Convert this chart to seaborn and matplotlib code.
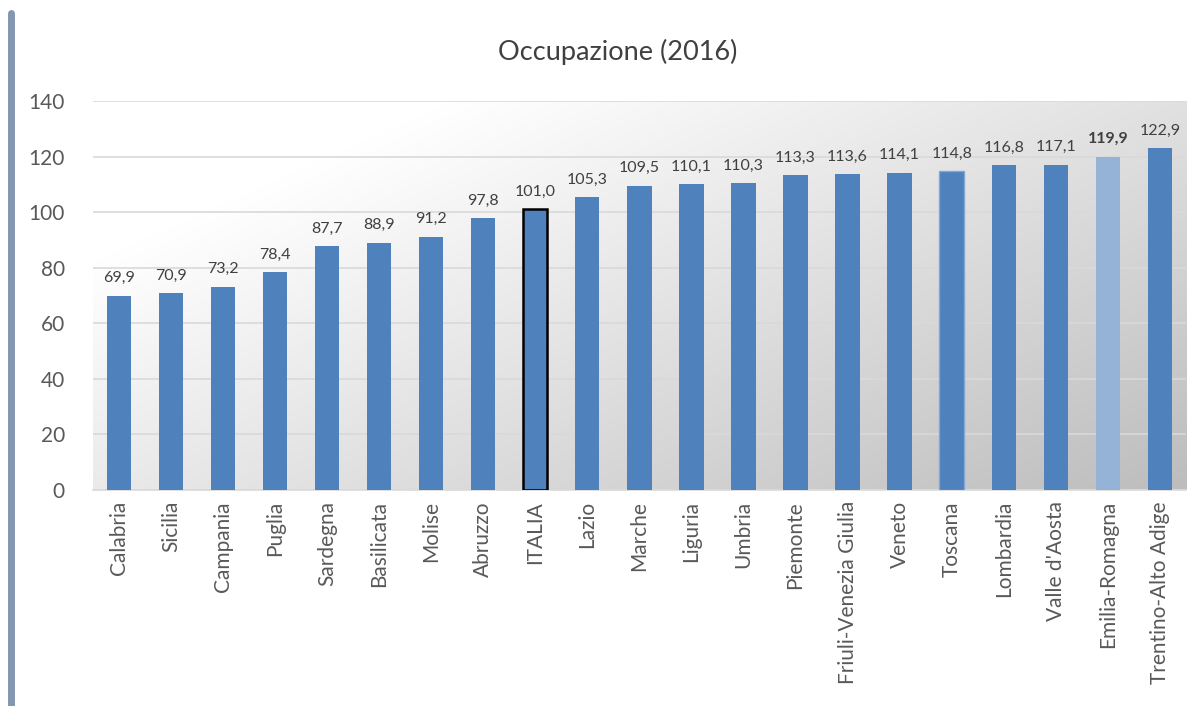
import numpy as np
import pandas as pd
import matplotlib
matplotlib.use("Agg")
import matplotlib.pyplot as plt
import seaborn as sns

regions = ["Calabria", "Sicilia", "Campania", "Puglia", "Sardegna", "Basilicata", "Molise",
           "Abruzzo", "ITALIA", "Lazio", "Marche", "Liguria", "Umbria", "Piemonte",
           "Friuli-Venezia Giulia", "Veneto", "Toscana", "Lombardia", "Valle d'Aosta",
           "Emilia-Romagna", "Trentino-Alto Adige"]
values = [69.9, 70.9, 73.2, 78.4, 87.7, 88.9, 91.2, 97.8, 101.0, 105.3, 109.5, 110.1,
          110.3, 113.3, 113.6, 114.1, 114.8, 116.8, 117.1, 119.9, 122.9]
yticks = [0, 20, 40, 60, 80, 100, 120, 140]
title = "Occupazione (2016)"

sns.set_theme(style="white")
plt.rcParams['font.family'] = ['Lato', 'DejaVu Sans']

df = pd.DataFrame({"regione": regions, "valore": values})
base = "#4F81BD"
light = "#95B3D7"
palette = {r: (light if r == "Emilia-Romagna" else base) for r in regions}

fig = plt.figure(figsize=(12.04, 7.06), dpi=100)
ax = fig.add_axes([0.077, 0.306, 0.908, 0.551])

# gradient background
ny, nx = 200, 400
u = np.linspace(0, 1, nx)[None, :]
v = np.linspace(0, 1, ny)[:, None]  # 0 top, 1 bottom
t = np.clip((0.75 * u + 0.6 * v - 0.25) / 1.1, 0, 1)
g = 1.0 - 0.26 * t
img = np.dstack([g, g, g])
ax.imshow(img, extent=[0, 1, 0, 1], transform=ax.transAxes, aspect="auto", zorder=0)

sns.barplot(data=df, x="regione", y="valore", hue="regione", palette=palette,
            width=0.47, legend=False, ax=ax, zorder=3, saturation=1)

for i, p in enumerate(ax.patches):
    if regions[i] == "ITALIA":
        p.set_edgecolor("black")
        p.set_linewidth(1.8)
    elif regions[i] == "Toscana":
        p.set_edgecolor("#7FA7DA")
        p.set_linewidth(1.0)
    else:
        p.set_linewidth(0)

for i, (r, val) in enumerate(zip(regions, values)):
    lab = f"{val:.1f}".replace(".", ",")
    ax.text(i, val + 3.8, lab, ha="center", va="bottom", fontsize=11.5,
            color="#404040", fontweight=("bold" if r == "Emilia-Romagna" else "normal"),
            zorder=5)

ax.set_ylim(0, 140)
ax.set_xlim(-0.5, len(regions) - 0.5)
ax.set_yticks(yticks)
ax.set_yticklabels([str(y) for y in yticks], fontsize=15, color="#595959")
ax.set_xticks(range(len(regions)))
ax.set_xticklabels(regions, rotation=90, fontsize=15, color="#595959")
ax.tick_params(axis="y", pad=20, length=0)
ax.tick_params(axis="x", pad=8, length=0)
ax.yaxis.grid(True, color="#D9D9D9", linewidth=1.2, zorder=1)
ax.set_axisbelow(True)
for s in ["top", "right", "left"]:
    ax.spines[s].set_visible(False)
ax.spines["bottom"].set_color("#D9D9D9")
ax.spines["bottom"].set_linewidth(1.2)
ax.set_xlabel("")
ax.set_ylabel("")

fig.text(0.513, 0.927, title, ha="center", va="center", fontsize=19.5, color="#404040")

# left border bar
fig.add_artist(plt.Line2D([0.0095, 0.0095], [0.0, 0.982], transform=fig.transFigure,
                          color="#8496B0", linewidth=5))

fig.savefig("out.png", dpi=100)
